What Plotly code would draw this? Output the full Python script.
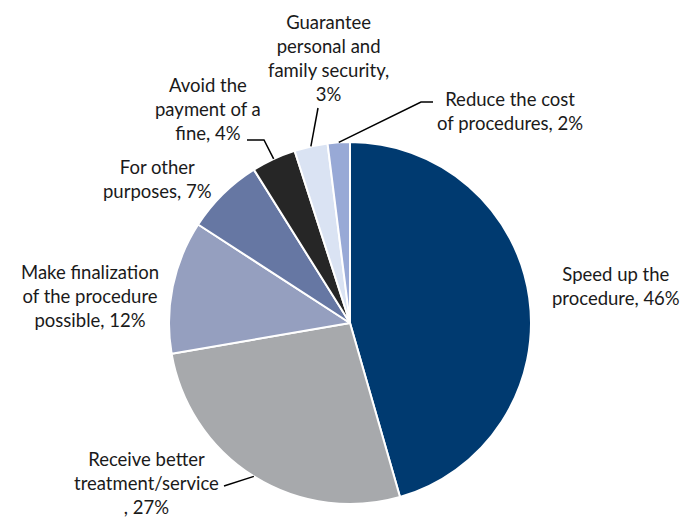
import math
import plotly.graph_objects as go

# ---- data ----
categories = [
    "Speed up the procedure",
    "Receive better treatment/service",
    "Make finalization of the procedure possible",
    "For other purposes",
    "Avoid the payment of a fine",
    "Guarantee personal and family security",
    "Reduce the cost of procedures",
]
values = [46, 27, 12, 7, 4, 3, 2]
label_texts = [
    "Speed up the<br>procedure, 46%",
    "Receive better<br>treatment/service<br>, 27%",
    "Make finalization<br>of the procedure<br>possible, 12%",
    "For other<br>purposes, 7%",
    "Avoid the<br>payment of a<br>fine, 4%",
    "Guarantee<br>personal and<br>family security,<br>3%",
    "Reduce the cost<br>of procedures, 2%",
]
colors = ["#003A70", "#A7A9AC", "#959FBF", "#6677A3", "#262626", "#DAE3F3", "#98A9D6"]

# ---- layout (pixels) ----
W, H = 683, 518
CX, CY, R = 350, 323, 181
label_pos = [(616, 286), (146, 483), (90, 296), (157, 179), (208, 109), (328, 58), (510, 111)]
# leader lines: list of extra points after the slice edge (None = no leader)
leaders = [None, [(224, 486)], None, None, [(264, 140), (247, 140)], [(318, 108)], [(421, 102), (433, 102)]]


def px(x):
    return x / W


def py(y):
    return 1 - y / H


fig = go.Figure()
fig.add_trace(go.Pie(
    labels=categories, values=values, sort=False, direction="clockwise", rotation=0,
    marker=dict(colors=colors, line=dict(color="white", width=2)),
    textinfo="none", hoverinfo="label+percent", showlegend=False,
    domain=dict(x=[px(CX - R), px(CX + R)], y=[py(CY + R), py(CY - R)]),
))

total = sum(values)
cum = 0
shapes = []
annotations = []
for i, v in enumerate(values):
    mid = (cum + v / 2) / total * 2 * math.pi
    cum += v
    sx = CX + R * math.sin(mid)
    sy = CY - R * math.cos(mid)
    if leaders[i]:
        pts = [(sx, sy)] + leaders[i]
        path = "M " + " L ".join(f"{px(x):.5f},{py(y):.5f}" for x, y in pts)
        shapes.append(dict(type="path", xref="paper", yref="paper", path=path,
                           line=dict(color="black", width=1.5)))
    lx, ly = label_pos[i]
    annotations.append(dict(text=label_texts[i], x=px(lx), y=py(ly), xref="paper", yref="paper",
                            xanchor="center", yanchor="middle", showarrow=False, align="center",
                            font=dict(family="Lato", size=18.5, color="#1a1a1a")))

fig.update_layout(
    width=W, height=H, margin=dict(l=0, r=0, t=0, b=0),
    paper_bgcolor="white", plot_bgcolor="white",
    shapes=shapes, annotations=annotations,
)
fig.write_html("out.html", config={"displayModeBar": False},
               post_script="document.body.style.margin='0';document.body.style.overflow='hidden';")
